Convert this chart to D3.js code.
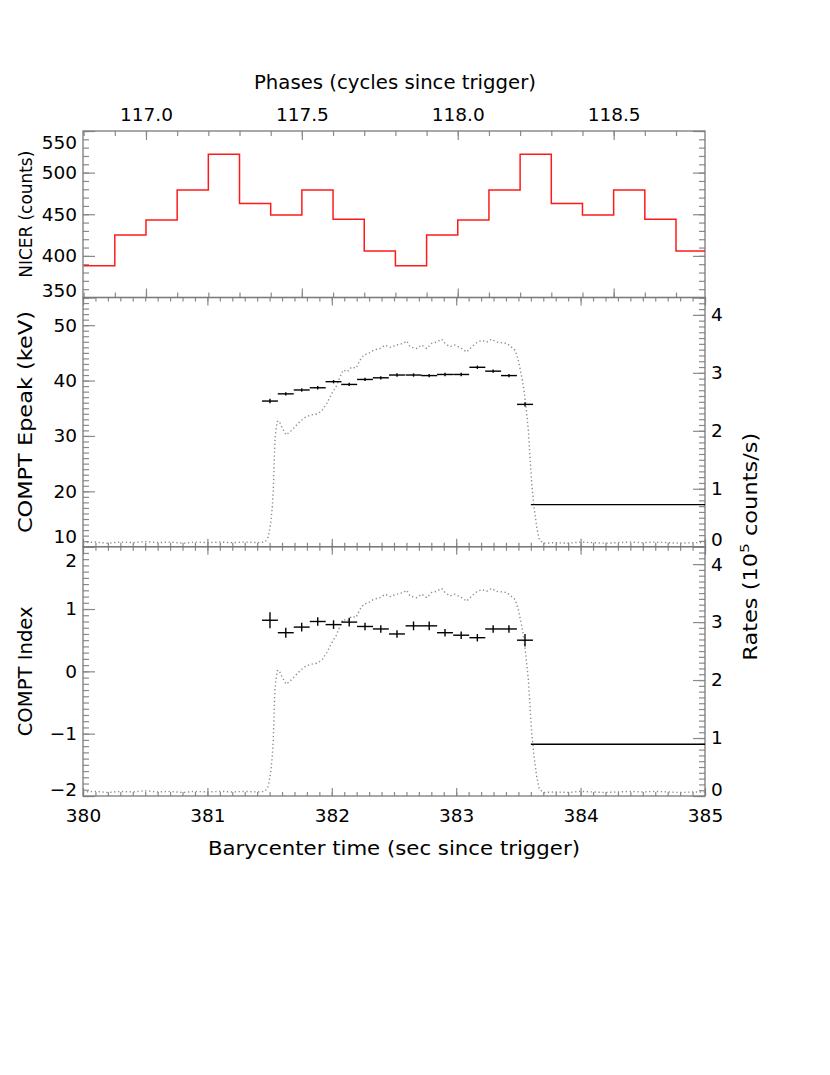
<!DOCTYPE html>
<html><head><meta charset="utf-8">
<script src="https://cdn.jsdelivr.net/npm/d3@7/dist/d3.min.js"></script>
<style>
body{margin:0;background:#fff}
text{font-family:"DejaVu Sans",sans-serif;fill:#000}
</style>
</head><body>
<svg id="c" width="830" height="1075"></svg>
<script>
// ---------------- DATA ----------------
// NICER folded profile: phase bin edges and counts
const phaseEdges = [116.8,116.9,117.0,117.1,117.2,117.3,117.4,117.5,117.6,117.7,117.8,
                    117.9,118.0,118.1,118.2,118.3,118.4,118.5,118.6,118.7,118.8];
const nicerCounts = [388,425,443,479,522,463,449,479,444,406,
                     388,425,443,479,522,463,449,479,444,406];

// Spectral fit bins (time centres, half width)
const binTimes = [381.503,381.630,381.758,381.887,382.014,382.140,382.267,382.394,382.524,
                  382.657,382.783,382.910,383.040,383.170,383.297,383.424,383.553];
const binHalfWidth = 0.064;
const epeak    = [36.3,37.6,38.3,38.7,39.8,39.3,40.2,40.5,41.0,41.0,40.9,41.1,41.1,42.4,41.7,40.9,35.7];
const epeakErr = [0.4,0.3,0.3,0.3,0.3,0.3,0.3,0.3,0.3,0.3,0.3,0.3,0.3,0.3,0.3,0.3,0.4];
const comptIndex = [0.82,0.62,0.71,0.80,0.75,0.79,0.72,0.68,0.60,0.73,0.73,0.62,0.58,0.54,0.68,0.68,0.50];
const indexErr   = [0.13,0.08,0.07,0.07,0.07,0.07,0.06,0.06,0.06,0.07,0.07,0.06,0.06,0.06,0.06,0.06,0.10];

// constant levels after the burst
const levelStart = 383.60, levelEnd = 385.0;
const epeakLevel = 17.6;
const indexLevel = -1.17;

// light curve (10^5 counts/s)
const lcTime = [380.00,380.10,380.20,380.30,380.40,380.50,380.60,380.70,380.80,380.90,
  381.00,381.10,381.20,381.30,381.40,381.463,381.490,381.509,381.522,381.530,381.538,381.543,
  381.551,381.562,381.576,381.597,381.632,381.664,381.704,381.744,381.785,381.825,381.879,
  381.919,381.959,381.999,382.034,382.066,382.092,382.125,382.160,382.195,382.227,382.259,
  382.293,382.334,382.387,382.428,382.468,382.522,382.575,382.602,382.629,382.682,382.723,
  382.763,382.803,382.843,382.883,382.910,382.950,382.990,383.044,383.084,383.125,383.165,
  383.205,383.245,383.285,383.325,383.366,383.406,383.446,383.473,383.499,383.527,383.545,
  383.561,383.580,383.593,383.607,383.625,383.647,383.668,383.700,383.80,383.90,384.00,
  384.10,384.20,384.30,384.40,384.50,384.60,384.70,384.80,384.90,385.00];
const lcRate = [0.07,0.08,0.06,0.08,0.07,0.09,0.07,0.08,0.06,0.08,
  0.07,0.08,0.07,0.08,0.07,0.08,0.17,0.41,0.70,0.98,1.55,1.84,
  2.01,2.16,2.17,2.07,1.93,1.98,2.07,2.16,2.23,2.27,2.29,
  2.34,2.47,2.64,2.76,2.93,3.05,3.02,3.10,3.08,3.22,3.31,
  3.33,3.39,3.42,3.48,3.44,3.48,3.51,3.55,3.45,3.42,3.48,
  3.42,3.51,3.53,3.58,3.51,3.45,3.48,3.42,3.36,3.45,3.52,
  3.56,3.53,3.58,3.53,3.52,3.51,3.44,3.39,3.22,2.93,2.70,
  2.41,2.01,1.55,1.09,0.69,0.34,0.12,0.06,0.07,0.06,0.08,
  0.07,0.06,0.07,0.08,0.07,0.08,0.07,0.06,0.07,0.07];

// tick values
const timeMajor = [380,381,382,383,384,385];
const phaseMajor = [117.0,117.5,118.0,118.5];
const countsMajor = [350,400,450,500,550];
const epeakMajor = [10,20,30,40,50];
const indexMajor = [-2,-1,0,1,2];
const rateMajor = [0,1,2,3,4];

// ---------------- LAYOUT ----------------
const X0 = 83, X1 = 705;
const P1 = [131, 297.5], P2 = [297.5, 546.7], P3 = [546.7, 796];
const frameColor = "#7a7a7a", tickColor = "#8a8a8a";

const svg = d3.select("#c");
const x = d3.scaleLinear().domain([380,385]).range([X0,X1]);
const xp = d3.scaleLinear().domain([116.798,118.793]).range([X0,X1]);
const yC = d3.scaleLinear().domain([350,550]).range([P1[1],P1[0]]);
const yE = d3.scaleLinear().domain([10,55]).range([P2[1],P2[0]]);
const yR2 = d3.scaleLinear().domain([0,4.3]).range([P2[1],P2[0]]);
const yI = d3.scaleLinear().domain([-2,2]).range([P3[1],P3[0]]);
const yR3 = d3.scaleLinear().domain([0,4.3]).range([P3[1],P3[0]]);

const range = (a,b,s) => d3.range(Math.round(a/s), Math.round(b/s)+1).map(i => +(i*s).toFixed(4));

// clip paths
const defs = svg.append("defs");
[["cp1",P1],["cp2",P2],["cp3",P3]].forEach(([id,P]) => {
  defs.append("clipPath").attr("id",id).append("rect")
    .attr("x",X0).attr("y",P[0]).attr("width",X1-X0).attr("height",P[1]-P[0]);
});

function styleAxis(g){
  g.select(".domain").remove();
  g.selectAll(".tick line").attr("stroke",tickColor).attr("stroke-width",1.2);
  g.selectAll("text").style("font-family","DejaVu Sans").style("font-size","18.5px").attr("fill","#000");
}
function axis(gen, tx, ty, minorVals, majorVals, minorLen, majorLen, labels, pad, fmt){
  svg.append("g").attr("transform",`translate(${tx},${ty})`)
    .call(gen.tickValues(minorVals).tickSize(-minorLen).tickFormat("")).call(styleAxis);
  const g = svg.append("g").attr("transform",`translate(${tx},${ty})`)
    .call(gen.tickValues(majorVals).tickSize(-majorLen).tickPadding(pad)
      .tickFormat(labels ? fmt : ""));
  styleAxis(g);
  return g;
}
function shiftEnds(g, scale, P, topDy, botDy){
  g.selectAll(".tick").each(function(d){
    const yy = scale(d);
    const t = d3.select(this).select("text");
    if (Math.abs(yy-P[0])<2) t.attr("dy", topDy);
    else if (Math.abs(yy-P[1])<2) t.attr("dy", botDy);
  });
}

// ---------- top panel ----------
axis(d3.axisTop(xp), 0, P1[0], range(116.8,118.7,0.1), phaseMajor, 5, 9, true, 10, d3.format(".1f"));
axis(d3.axisBottom(xp), 0, P1[1], range(116.8,118.7,0.1), phaseMajor, 5, 9, false, 0);
let g = axis(d3.axisLeft(yC), X0, 0, range(350,550,10), countsMajor, 6, 12, true, 6, d3.format("d"));
shiftEnds(g, yC, P1, "0.95em", "-0.05em");
axis(d3.axisRight(yC), X1, 0, range(350,550,10), countsMajor, 6, 12, false, 0);

// ---------- middle panel ----------
axis(d3.axisTop(x), 0, P2[0], range(380,385,0.1), timeMajor, 4, 8, false, 0);
axis(d3.axisBottom(x), 0, P2[1], range(380,385,0.1), timeMajor, 4, 8, false, 0);
g = axis(d3.axisLeft(yE), X0, 0, range(10,55,1), epeakMajor, 6, 12, true, 6, d3.format("d"));
shiftEnds(g, yE, P2, "0.95em", "-0.22em");
g = axis(d3.axisRight(yR2), X1, 0, range(0,4.3,0.1), rateMajor, 6, 12, true, 6, d3.format("d"));
shiftEnds(g, yR2, P2, "0.95em", "-0.05em");

// ---------- bottom panel ----------
axis(d3.axisTop(x), 0, P3[0], range(380,385,0.1), timeMajor, 4, 8, false, 0);
g = axis(d3.axisBottom(x), 0, P3[1], range(380,385,0.1), timeMajor, 4, 8, true, 13, d3.format("d"));
g = axis(d3.axisLeft(yI), X0, 0, range(-2,2,0.1), indexMajor, 6, 12, true, 6, d => d<0 ? "\u2212"+Math.abs(d) : String(d));
shiftEnds(g, yI, P3, "1.05em", "-0.05em");
g = axis(d3.axisRight(yR3), X1, 0, range(0,4.3,0.1), rateMajor, 6, 12, true, 6, d3.format("d"));
shiftEnds(g, yR3, P3, "0.95em", "-0.05em");

// frames
[P1,P2,P3].forEach(P => {
  svg.append("rect").attr("x",X0).attr("y",P[0]).attr("width",X1-X0).attr("height",P[1]-P[0])
    .attr("fill","none").attr("stroke",frameColor).attr("stroke-width",1.3);
});

// ---------- NICER histogram ----------
const stepPts = phaseEdges.map((e,i) => [e, nicerCounts[Math.min(i, nicerCounts.length-1)]]);
svg.append("path").attr("clip-path","url(#cp1)")
  .attr("d", d3.line().x(d=>xp(d[0])).y(d=>yC(d[1])).curve(d3.curveStepAfter)(stepPts))
  .attr("fill","none").attr("stroke","#ff1a1a").attr("stroke-width",1.5);

// ---------- light curves ----------
const lc = lcTime.map((t,i)=>[t, lcRate[i]]);
[[yR2,"cp2"],[yR3,"cp3"]].forEach(([ys,cp]) => {
  svg.append("path").attr("clip-path",`url(#${cp})`)
    .attr("d", d3.line().x(d=>x(d[0])).y(d=>ys(d[1]))(lc))
    .attr("fill","none").attr("stroke","#8c8c8c").attr("stroke-width",1.4)
    .attr("stroke-dasharray","1.3,2.6");
});

// ---------- error-bar points ----------
function errPoints(ys, vals, errs){
  const gp = svg.append("g").attr("stroke","#000").attr("stroke-width",1.4);
  binTimes.forEach((t,i) => {
    gp.append("line").attr("x1",x(t-binHalfWidth)).attr("x2",x(t+binHalfWidth))
      .attr("y1",ys(vals[i])).attr("y2",ys(vals[i]));
    gp.append("line").attr("x1",x(t)).attr("x2",x(t))
      .attr("y1",ys(vals[i]-errs[i])).attr("y2",ys(vals[i]+errs[i]));
  });
}
errPoints(yE, epeak, epeakErr);
errPoints(yI, comptIndex, indexErr);

svg.append("line").attr("x1",x(levelStart)).attr("x2",x(levelEnd))
  .attr("y1",yE(epeakLevel)).attr("y2",yE(epeakLevel)).attr("stroke","#000").attr("stroke-width",1.4);
svg.append("line").attr("x1",x(levelStart)).attr("x2",x(levelEnd))
  .attr("y1",yI(indexLevel)).attr("y2",yI(indexLevel)).attr("stroke","#000").attr("stroke-width",1.4);

// ---------- titles ----------
svg.append("text").attr("x",395).attr("y",89).attr("text-anchor","middle")
  .style("font-size","19px").attr("textLength",282).attr("lengthAdjust","spacingAndGlyphs")
  .text("Phases (cycles since trigger)");
svg.append("text").attr("x",394).attr("y",855).attr("text-anchor","middle")
  .style("font-size","19px").attr("textLength",372).attr("lengthAdjust","spacingAndGlyphs")
  .text("Barycenter time (sec since trigger)");

function vlabel(xx, yy, txt, size, len){
  return svg.append("text").attr("transform",`translate(${xx},${yy}) rotate(-90)`)
    .attr("text-anchor","middle").style("font-size",size)
    .attr("textLength",len).attr("lengthAdjust","spacingAndGlyphs").text(txt);
}
vlabel(32, (P1[0]+P1[1])/2, "NICER (counts)", "17px", 127);
vlabel(32, (P2[0]+P2[1])/2, "COMPT Epeak (keV)", "19px", 222);
vlabel(32, (P3[0]+P3[1])/2, "COMPT Index", "19px", 130);
const rl = svg.append("text").attr("transform",`translate(757,${(P2[0]+P3[1])/2}) rotate(-90)`)
  .attr("text-anchor","middle").style("font-size","19px")
  .attr("textLength",228).attr("lengthAdjust","spacingAndGlyphs");
rl.append("tspan").text("Rates (10");
rl.append("tspan").attr("dy",-8).style("font-size","13px").text("5");
rl.append("tspan").attr("dy",8).text(" counts/s)");
</script>
</body></html>
